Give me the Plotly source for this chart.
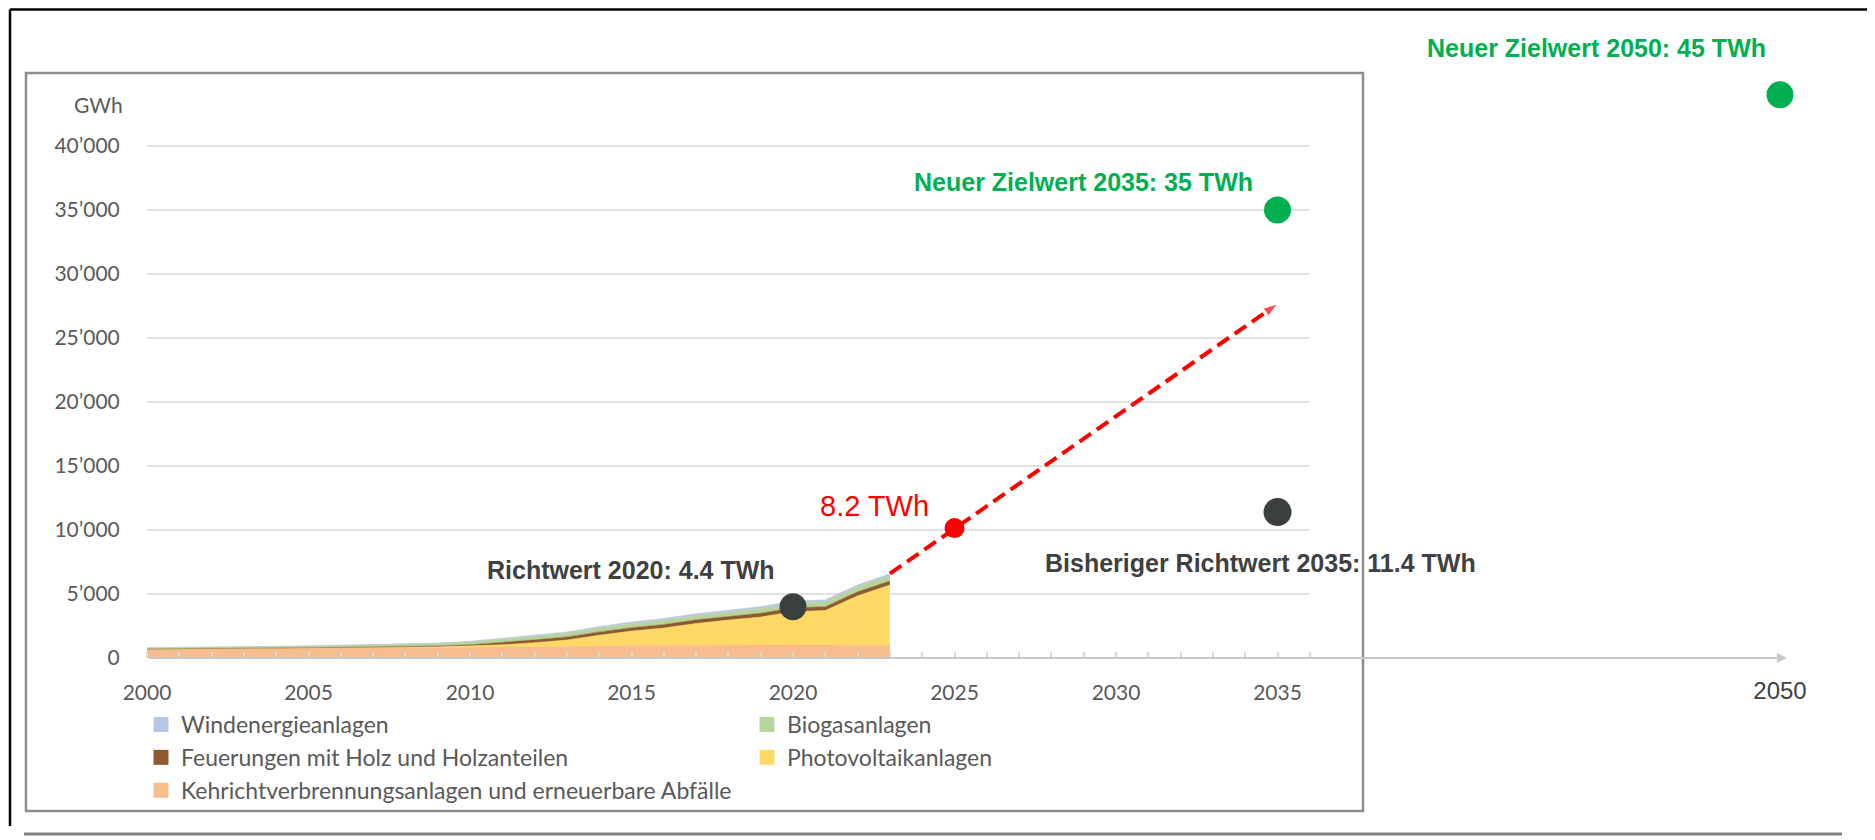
import plotly.graph_objects as go

# ---------------- data (GWh) ----------------
years = list(range(2000, 2024))
kva = [680, 690, 700, 715, 730, 750, 770, 790, 800, 820, 840, 860, 880, 900, 940, 1000,
       1010, 1020, 1020, 1020, 1020, 1010, 1000, 1000]
pv = [10, 12, 15, 17, 19, 21, 23, 30, 40, 55, 95, 170, 320, 500, 840, 1100,
      1330, 1680, 1940, 2180, 2600, 2700, 3860, 4700]
holz = [10, 10, 10, 15, 20, 30, 40, 50, 60, 70, 100, 180, 220, 250, 260, 270,
        280, 280, 290, 300, 300, 300, 310, 320]
biogas = [100, 105, 110, 115, 125, 140, 150, 160, 180, 200, 230, 260, 280, 300, 320, 330,
          340, 350, 360, 370, 380, 390, 390, 400]
wind = [3, 3, 5, 5, 6, 8, 15, 16, 20, 22, 37, 70, 88, 90, 100, 110,
        130, 130, 120, 145, 145, 145, 150, 170]

series_names = ["Kehrichtverbrennungsanlagen und erneuerbare Abfälle", "Photovoltaikanlagen",
                "Feuerungen mit Holz und Holzanteilen", "Biogasanlagen", "Windenergieanlagen"]
series_values = [kva, pv, holz, biogas, wind]
series_colors = ["#F6BE8E", "#FFD966", "#8C5A2C", "#B8D49A", "#B4C7E7"]

y_ticks = [0, 5000, 10000, 15000, 20000, 25000, 30000, 35000, 40000]
y_ticktext = ["0", "5’000", "10’000", "15’000", "20’000", "25’000", "30’000", "35’000", "40’000"]
x_ticks = [2000, 2005, 2010, 2015, 2020, 2025, 2030, 2035]
x_minor = list(range(2000, 2037))
x_far_ticks = [2050]

richtwert_2020 = (2020, 4000)
bisheriger_2035 = (2035, 11400)
zwischen_2025 = (2025, 10150)
ziel_2035 = (2035, 35000)
ziel_2050 = (2050, 44000)
proj_years = [2023, 2035]
proj_end = 27660

# ---------------- helpers (layout only) ----------------
W, H = 1875, 840
OFF = 8   # page body margin
def px(x):
    return (x - OFF) / W
def py(y):
    return 1 - (y - OFF) / H

PPY = 32.3          # pixels per year
X0 = 147            # pixel of year 2000
PLOT_L, PLOT_R = 140, 1810
PLOT_B, PLOT_T = 658, 20
PPG = 64 / 5000     # pixels per GWh
xmin = 2000 - (X0 - PLOT_L) / PPY
xmax = 2000 + (PLOT_R - X0) / PPY
x2min = 2050 - (1780 - PLOT_L) / PPY
x2max = x2min + (PLOT_R - PLOT_L) / PPY
ymax = (PLOT_B - PLOT_T) / PPG

fig = go.Figure()

# stacked areas
for name, vals, col in zip(series_names, series_values, series_colors):
    fig.add_trace(go.Scatter(x=years, y=vals, stackgroup="one", mode="lines",
                             line=dict(width=0.5, color=col), fillcolor=col,
                             name=name, showlegend=False, hoverinfo="skip"))

total_2023 = sum(v[-1] for v in series_values)

# dashed projection
fig.add_trace(go.Scatter(x=proj_years, y=[total_2023, proj_end], mode="lines+markers",
                         line=dict(color="#FF0000", width=4, dash="14px,7px"),
                         marker=dict(symbol=["circle", "arrow"], size=[0, 15],
                                     angleref="previous", color="#FF0000"),
                         showlegend=False, cliponaxis=False))

def dot(pt, color, size, xaxis="x"):
    fig.add_trace(go.Scatter(x=[pt[0]], y=[pt[1]], mode="markers", xaxis=xaxis,
                             marker=dict(color=color, size=size, line=dict(width=0)),
                             showlegend=False, cliponaxis=False))

dot(richtwert_2020, "#3B3F3F", 27)
dot(bisheriger_2035, "#3B3F3F", 28)
dot(zwischen_2025, "#FF0000", 20)
dot(ziel_2035, "#00B050", 27)
dot(ziel_2050, "#00B050", 27, xaxis="x2")

# legend entries
legend_order = [("Windenergieanlagen", "#B4C7E7", "legend"),
                ("Biogasanlagen", "#B8D49A", "legend2"),
                ("Feuerungen mit Holz und Holzanteilen", "#8C5A2C", "legend"),
                ("Photovoltaikanlagen", "#FFD966", "legend2"),
                ("Kehrichtverbrennungsanlagen und erneuerbare Abfälle", "#F6BE8E", "legend")]
for i, (name, col, lg) in enumerate(legend_order):
    fig.add_trace(go.Scatter(x=[None], y=[None], mode="markers", name=name, legend=lg,
                             legendgroup=f"g{i}",
                             marker=dict(symbol="square", size=15, color=col)))

# gridlines
shapes = []
for yv in y_ticks[1:]:
    shapes.append(dict(type="line", xref="x", yref="y", x0=2000, x1=2036, y0=yv, y1=yv,
                       line=dict(color="#D9D9D9", width=1.5), layer="below"))
# frames
shapes += [
    dict(type="line", xref="paper", yref="paper", x0=px(10), x1=1, y0=py(9.5), y1=py(9.5),
         line=dict(color="#000000", width=2.5)),
    dict(type="line", xref="paper", yref="paper", x0=px(10), x1=px(10), y0=py(9.5), y1=py(826),
         line=dict(color="#000000", width=2.5)),
    dict(type="rect", xref="paper", yref="paper", x0=px(26), x1=px(1363), y0=py(811), y1=py(73),
         line=dict(color="#8C8C8C", width=2.5), layer="below"),
    dict(type="line", xref="paper", yref="paper", x0=px(24), x1=px(1842), y0=py(834), y1=py(834),
         line=dict(color="#808080", width=3)),
]

bold = dict(family="Liberation Sans, Arial, sans-serif", size=25)

def label(x, y, text, font):
    return dict(x=px(x), y=py(y), xref="paper", yref="paper", text=text, showarrow=False,
                xanchor="center", yanchor="middle", font=font)

annotations = [
    # x axis arrow line
    dict(x=2050.77, y=0, ax=2000, ay=0, xref="x", yref="y", axref="x", ayref="y",
         text="", showarrow=True, arrowhead=2, arrowsize=1, arrowwidth=2,
         arrowcolor="#C8C8C8", standoff=0),
    label(98, 104, "GWh", dict(family="Lato", size=21, color="#595959")),
    label(631, 570, "<b>Richtwert 2020: 4.4 TWh</b>", dict(bold, color="#404040")),
    label(1260, 563, "<b>Bisheriger Richtwert 2035: 11.4 TWh</b>", dict(bold, color="#404040")),
    label(1083, 182, "<b>Neuer Zielwert 2035: 35 TWh</b>", dict(bold, color="#00B050")),
    label(1596, 48, "<b>Neuer Zielwert 2050: 45 TWh</b>", dict(bold, color="#00B050")),
    label(874, 506, "8.2 TWh", dict(family="Liberation Sans, Arial, sans-serif", size=29,
                                    color="#FF0000")),
]

legend_font = dict(family="Lato", size=23, color="#595959")
fig.update_layout(
    width=W, height=H, margin=dict(l=0, r=0, t=0, b=0, pad=0, autoexpand=False),
    paper_bgcolor="white", plot_bgcolor="white",
    shapes=shapes, annotations=annotations,
    xaxis=dict(domain=[px(PLOT_L), px(PLOT_R)], range=[xmin, xmax], automargin=False,
               tickmode="array", tickvals=x_ticks, ticktext=[str(v) for v in x_ticks],
               ticks="inside", ticklen=6, tickcolor="#D9D9D9", tickwidth=1.5,
               minor=dict(tickmode="array", tickvals=x_minor, ticks="inside", ticklen=6,
                          tickcolor="#D9D9D9", tickwidth=1.5),
               tickfont=dict(family="Lato", size=21, color="#595959"),
               ticklabelstandoff=20,
               showgrid=False, zeroline=False, showline=False, fixedrange=True),
    xaxis2=dict(domain=[px(PLOT_L), px(PLOT_R)], range=[x2min, x2max], overlaying="x",
                anchor="y", side="bottom", tickmode="array", tickvals=x_far_ticks,
                ticktext=[str(v) for v in x_far_ticks], ticks="", automargin=False,
                tickfont=dict(family="Liberation Sans, Arial", size=24, color="#404040"),
                ticklabelstandoff=16,
                showgrid=False, zeroline=False, showline=False),
    yaxis=dict(domain=[py(PLOT_B), py(PLOT_T)], range=[0, ymax], automargin=False,
               tickmode="array", tickvals=y_ticks, ticktext=y_ticktext,
               ticks="outside", ticklen=15, tickcolor="rgba(0,0,0,0)",
               tickfont=dict(family="Lato", size=21, color="#595959"),
               showgrid=False, zeroline=False, showline=False),
    legend=dict(x=px(141), y=py(703), xanchor="left", yanchor="top",
                bgcolor="rgba(0,0,0,0)", tracegroupgap=0, itemwidth=30, font=legend_font),
    legend2=dict(x=px(747), y=py(703), xanchor="left", yanchor="top",
                 bgcolor="rgba(0,0,0,0)", tracegroupgap=0, itemwidth=30, font=legend_font),
    showlegend=True,
)

fig.write_html("out.html")
